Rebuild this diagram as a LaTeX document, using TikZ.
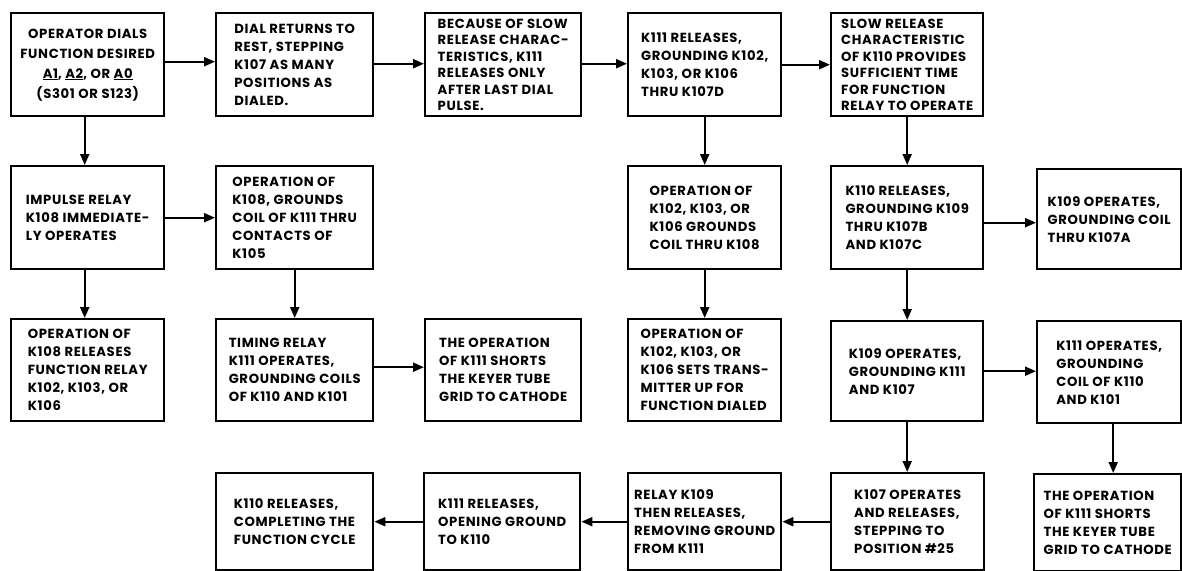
\documentclass[tikz,border=0pt]{standalone}
\usepackage{fontspec}
\setmainfont{Poppins}[LetterSpace=5]
\usetikzlibrary{arrows.meta}
\begin{document}
\begin{tikzpicture}[x=1pt,y=-1pt,
  box/.style={draw, line width=2.4pt, inner sep=2pt, align=left, anchor=north west,
    font=\fontsize{13.2}{18}\selectfont\bfseries},
  arr/.style={-{Triangle[length=11pt,width=9pt]}, line width=2pt},
  r1/.style={minimum height=103pt},
  r2/.style={minimum height=103pt},
  r3/.style={minimum height=102pt},
  r4/.style={minimum height=97pt},
  c1/.style={minimum width=153pt},
  c2/.style={minimum width=157pt},
  c3/.style={minimum width=156pt},
  c4/.style={minimum width=153pt},
  c5/.style={minimum width=152pt},
  c6/.style={minimum width=144pt}]
\useasboundingbox (0,0) rectangle (1182,570);

% row 1
\node[box,r1,c1,align=center,font=\fontsize{13.2}{20}\selectfont\bfseries] (A) at (10,12)
  {OPERATOR DIALS\\FUNCTION DESIRED\\\underline{A1}, \underline{A2}, OR \underline{A0}\\(S301 OR S123)};
\node[box,r1,c2] (B) at (215,12)
  {DIAL RETURNS TO\\REST, STEPPING\\K107 AS MANY\\POSITIONS AS\\DIALED.};
\node[box,r1,c3,font=\fontsize{13.2}{16.5}\selectfont\bfseries] (C) at (424,12)
  {BECAUSE OF SLOW\\RELEASE CHARAC-\\TERISTICS, K111\\RELEASES ONLY\\AFTER LAST DIAL\\PULSE.};
\node[box,r1,c4] (D) at (627,12)
  {K111 RELEASES,\\GROUNDING K102,\\K103, OR K106\\THRU K107D};
\node[box,r1,c5,font=\fontsize{13.2}{16.5}\selectfont\bfseries] (E) at (830,12)
  {SLOW RELEASE\\CHARACTERISTIC\\OF K110 PROVIDES\\SUFFICIENT TIME\\FOR FUNCTION\\RELAY TO OPERATE};

% row 2
\node[box,r2,c1] (F) at (10,165)
  {IMPULSE RELAY\\K108 IMMEDIATE-\\LY OPERATES};
\node[box,r2,c2] (G) at (215,165)
  {OPERATION OF\\K108, GROUNDS\\COIL OF K111 THRU\\CONTACTS OF\\K105};
\node[box,r2,c4] (H) at (627,165)
  {OPERATION OF\\K102, K103, OR\\K106 GROUNDS\\COIL THRU K108};
\node[box,r2,c5] (I) at (830,165)
  {K110 RELEASES,\\GROUNDING K109\\THRU K107B\\AND K107C};
\node[box,r2,c6,minimum height=100pt] (J) at (1036,168)
  {K109 OPERATES,\\GROUNDING COIL\\THRU K107A};

% row 3
\node[box,r3,c1] (K) at (10,318)
  {OPERATION OF\\K108 RELEASES\\FUNCTION RELAY\\K102, K103, OR\\K106};
\node[box,r3,c2] (L) at (215,318)
  {TIMING RELAY\\K111 OPERATES,\\GROUNDING COILS\\OF K110 AND K101};
\node[box,r3,c3] (M) at (424,318)
  {THE OPERATION\\OF K111 SHORTS\\THE KEYER TUBE\\GRID TO CATHODE};
\node[box,r3,c4] (N) at (627,318)
  {OPERATION OF\\K102, K103, OR\\K106 SETS TRANS-\\MITTER UP FOR\\FUNCTION DIALED};
\node[box,r3,c5,minimum height=100pt] (O) at (830,320)
  {K109 OPERATES,\\GROUNDING K111\\AND K107};
\node[box,r3,c6,minimum height=102pt] (P) at (1036,320)
  {K111 OPERATES,\\GROUNDING\\COIL OF K110\\AND K101};

% row 4
\node[box,r4,c2] (Q) at (215,472)
  {K110 RELEASES,\\COMPLETING THE\\FUNCTION CYCLE};
\node[box,r4,c3] (R) at (423,472)
  {K111 RELEASES,\\OPENING GROUND\\TO K110};
\node[box,r4,c4] (S) at (627,472)
  {RELAY K109\\THEN RELEASES,\\REMOVING GROUND\\FROM K111};
\node[box,r4,c4] (T) at (830,472)
  {K107 OPERATES\\AND RELEASES,\\STEPPING TO\\POSITION \#25};
\node[box,r4,minimum width=147pt] (U) at (1033,473)
  {THE OPERATION\\OF K111 SHORTS\\THE KEYER TUBE\\GRID TO CATHODE};

% connectors
\draw[arr] ([yshift=3pt]A.east) -- ([yshift=3pt]A.east -| B.west);
\draw[arr] ([yshift=1pt]B.east) -- ([yshift=1pt]B.east -| C.west);
\draw[arr] ([yshift=1pt]C.east) -- ([yshift=1pt]C.east -| D.west);
\draw[arr] (D.east) -- (D.east -| E.west);

\draw[arr] ([xshift=-3pt]A.south) -- ([xshift=-3pt]A.south |- F.north);
\draw[arr] ([xshift=-3pt]F.south) -- ([xshift=-3pt]F.south |- K.north);
\draw[arr] (F.east) -- (F.east -| G.west);
\draw[arr] (G.south) -- (G.south |- L.north);
\draw[arr] ([yshift=3pt]L.east) -- ([yshift=3pt]L.east -| M.west);

\draw[arr] (D.south) -- (D.south |- H.north);
\draw[arr] (H.south) -- (H.south |- N.north);

\draw[arr] (E.south) -- (E.south |- I.north);
\draw[arr] ([yshift=-5pt]I.east) -- ([yshift=-5pt]I.east -| J.west);
\draw[arr] (I.south) -- (I.south |- O.north);
\draw[arr] (O.east) -- (O.east -| P.west);
\draw[arr] (O.south) -- (O.south |- T.north);
\draw[arr] ([xshift=4pt]P.south) -- ([xshift=4pt]P.south |- U.north);

\draw[arr] (T.west) -- (T.west -| S.east);
\draw[arr] (S.west) -- (S.west -| R.east);
\draw[arr] (R.west) -- (R.west -| Q.east);
\end{tikzpicture}
\end{document}
